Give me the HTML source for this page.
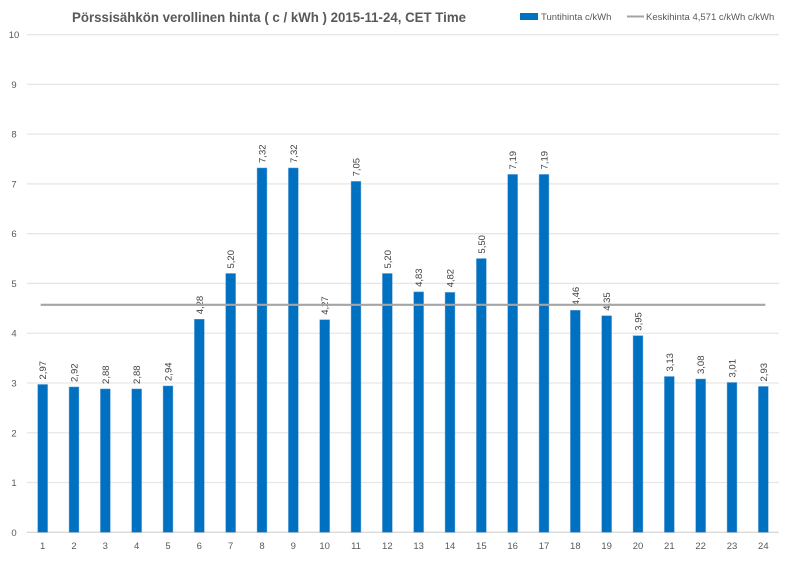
<!DOCTYPE html>
<html><head><meta charset="utf-8"><style>
body{margin:0;background:#fff;}
svg{display:block;font-family:"Liberation Sans",sans-serif;}
</style></head><body>
<svg width="800" height="566" viewBox="0 0 800 566" xmlns="http://www.w3.org/2000/svg">
<rect width="800" height="566" fill="#fff"/>
<text x="72" y="22" font-size="14" font-weight="bold" fill="#595959" textLength="394" lengthAdjust="spacingAndGlyphs">Pörssisähkön verollinen hinta ( c / kWh ) 2015-11-24, CET Time</text>
<rect x="520" y="13" width="18" height="7" fill="#0070C0"/>
<text x="541" y="20" font-size="9.5" fill="#595959">Tuntihinta c/kWh</text>
<line x1="627" y1="16.5" x2="644" y2="16.5" stroke="#A5A5A5" stroke-width="2"/>
<text x="646" y="20" font-size="9.5" fill="#595959">Keskihinta 4,571 c/kWh c/kWh</text>
<g id="grid"></g>
<g id="bars"></g>
</svg>
<script>
const vals=[2.97,2.92,2.88,2.88,2.94,4.28,5.20,7.32,7.32,4.27,7.05,5.20,4.83,4.82,5.50,7.19,7.19,4.46,4.35,3.95,3.13,3.08,3.01,2.93];
const ns="http://www.w3.org/2000/svg";
const g=document.getElementById('grid'),b=document.getElementById('bars');
const y0=532.3,u=49.77,x0=27,x1=779,cw=(x1-x0)/24;
function el(p,t,a,txt){const e=document.createElementNS(ns,t);for(const k in a)e.setAttribute(k,a[k]);if(txt!==undefined)e.textContent=txt;p.appendChild(e);return e;}
for(let i=0;i<=10;i++){const y=y0-i*u;
el(g,'line',{x1:x0,x2:x1,y1:y,y2:y,stroke:i==0?'#d9d9d9':'#e6e6e6','stroke-width':1.3});
el(g,'text',{x:14,y:y+3.5,'text-anchor':'middle','font-size':9.5,fill:'#595959'},String(i));}
vals.forEach((v,i)=>{const cx=x0+cw*(i+0.5),h=v*u;
el(b,'rect',{x:cx-4.9,y:y0-h,width:9.8,height:h,fill:'#0070C0',stroke:'#5b9bd5','stroke-width':0.5});
el(b,'text',{x:0,y:0,transform:`translate(${cx+3.5},${y0-h-5}) rotate(-90)`,'font-size':9.5,fill:'#404040'},v.toFixed(2).replace('.',','));
el(b,'text',{x:cx,y:549,'text-anchor':'middle','font-size':9.5,fill:'#595959'},String(i+1));});
el(b,'line',{x1:x0+cw*0.5-2,x2:x0+cw*23.5+2,y1:y0-4.571*u,y2:y0-4.571*u,stroke:'#A5A5A5','stroke-width':2.2});
</script>
</body></html>
